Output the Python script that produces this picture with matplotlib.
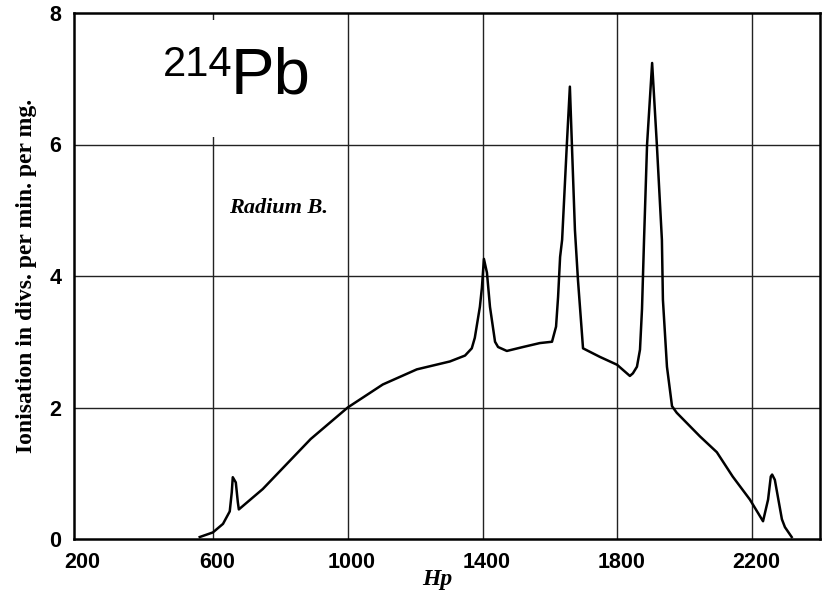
import matplotlib
matplotlib.use("Agg")
import matplotlib.pyplot as plt
from matplotlib.patches import Rectangle
import matplotlib.transforms as mtransforms

# Data (Hp vs ionisation)
hp = [561, 600, 630, 650, 656, 659, 668, 674, 677, 748, 890, 1000, 1104, 1205,
      1303, 1348, 1368, 1377, 1392, 1398, 1404, 1413, 1422, 1437, 1446, 1472,
      1520, 1570, 1606, 1618, 1624, 1630, 1636, 1650, 1659, 1665, 1674, 1683,
      1694, 1698, 1748, 1799, 1837, 1846, 1858, 1867, 1873, 1879, 1888, 1903,
      1917, 1932, 1935, 1947, 1962, 1976, 2045, 2095, 2142, 2193, 2232, 2247,
      2255, 2259, 2267, 2288, 2297, 2317]
ion = [0.03, 0.10, 0.23, 0.42, 0.71, 0.94, 0.86, 0.56, 0.45, 0.76, 1.52, 2.0,
       2.35, 2.58, 2.70, 2.79, 2.90, 3.06, 3.53, 3.82, 4.26, 4.05, 3.53, 3.0,
       2.92, 2.86, 2.92, 2.98, 3.0, 3.23, 3.68, 4.29, 4.55, 6.0, 6.88, 6.0,
       4.7, 3.94, 3.18, 2.9, 2.77, 2.65, 2.48, 2.52, 2.62, 2.88, 3.50, 4.55,
       6.0, 7.24, 6.0, 4.55, 3.64, 2.62, 2.02, 1.92, 1.56, 1.32, 0.95, 0.60,
       0.27, 0.60, 0.95, 0.98, 0.90, 0.30, 0.18, 0.03]

x_ticks = [200, 600, 1000, 1400, 1800, 2200]
y_ticks = [0, 2, 4, 6, 8]

W, H = 828, 596
fig = plt.figure(figsize=(W / 100, H / 100), dpi=100)
L, R, T, B = 74, 820, 13, 539
ax = fig.add_axes([L / W, (H - B) / H, (R - L) / W, (B - T) / H])

ax.set_xlim(188, 2401)
ax.set_ylim(0, 8)
ax.set_xticks(x_ticks)
ax.set_yticks(y_ticks)
ax.set_axisbelow(True)
ax.grid(True, color="#222222", linewidth=1.0, zorder=0.5)
ax.xaxis.get_gridlines()[0].set_visible(False)
for gl in ax.yaxis.get_gridlines()[:1] + ax.yaxis.get_gridlines()[-1:]:
    gl.set_visible(False)

for s in ax.spines.values():
    s.set_linewidth(1.8)
    s.set_color("black")

ax.tick_params(length=0, pad=9)
for lab in ax.get_xticklabels() + ax.get_yticklabels():
    lab.set_fontfamily("Liberation Sans")
    lab.set_fontweight("bold")
    lab.set_fontsize(15.5)
offset = mtransforms.ScaledTranslation(4 / 100, 0, fig.dpi_scale_trans)
for lab in ax.get_xticklabels():
    lab.set_transform(lab.get_transform() + offset)

ax.plot(hp, ion, color="black", linewidth=1.8, zorder=3,
        solid_joinstyle="round")

# white box behind the isotope label (covers the gridline as in the reference)
fig.patches.append(Rectangle((155 / W, 1 - 137 / H), 160 / W, 117 / H,
                             transform=fig.transFigure, facecolor="white",
                             edgecolor="none", zorder=1))

fig.text(163 / W, 1 - 76 / H, "214", fontfamily="Liberation Sans",
         fontsize=30, ha="left", va="baseline", zorder=5)
fig.text(231 / W, 1 - 94 / H, "Pb", fontfamily="Liberation Sans",
         fontsize=47, ha="left", va="baseline", zorder=5)

fig.text(279 / W, 1 - 208 / H, "Radium B.", fontfamily="Liberation Serif",
         fontweight="bold", fontstyle="italic", fontsize=16,
         ha="center", va="center")

fig.text(437 / W, 1 - 580 / H, "Hp", fontfamily="Liberation Serif",
         fontweight="bold", fontstyle="italic", fontsize=17,
         ha="center", va="center")

fig.text(27 / W, 1 - 276 / H, "Ionisation in divs. per min. per mg.",
         fontfamily="Liberation Serif", fontweight="bold", fontsize=17,
         rotation=90, ha="center", va="center")

fig.savefig("out.png", dpi=100)
